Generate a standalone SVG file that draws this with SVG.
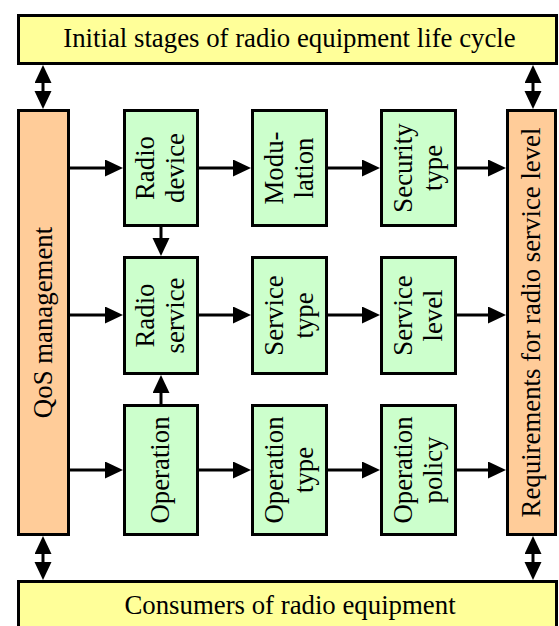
<svg xmlns="http://www.w3.org/2000/svg" width="559" height="626" viewBox="0 0 559 626">
<style>
.box{stroke:#000;stroke-width:3;}
.y{fill:#FFFF99;}
.o{fill:#FFCC99;}
.g{fill:#CCFFCC;}
text{font-family:"Liberation Serif","Times New Roman",serif;font-size:26.8px;fill:#000;text-anchor:middle;}
.c{stroke:#000;stroke-width:3;fill:none;}
</style>
<defs>
<marker id="ah" markerUnits="userSpaceOnUse" markerWidth="20" markerHeight="18" refX="1" refY="8.5" orient="auto-start-reverse" viewBox="0 0 20 18">
<path d="M0,0 L18,8.5 L0,17 Z" fill="#000"/>
</marker>
</defs>
<g id="top">
<rect class="box y" x="18.5" y="15.5" width="538" height="48"/>
<text x="289.5" y="47">Initial stages of radio equipment life cycle</text>
</g>
<g id="bottom">
<rect class="box y" x="18.5" y="581.5" width="538" height="60"/>
<text x="290" y="614">Consumers of radio equipment</text>
</g>
<g id="qos">
<rect class="box o" x="18.5" y="110.5" width="50" height="424"/>
<text transform="translate(43.5,322.5) rotate(-90)" x="0" y="8.5">QoS management</text>
</g>
<g id="req">
<rect class="box o" x="507.5" y="110.5" width="48" height="424"/>
<text transform="translate(531.5,322.5) rotate(-90)" x="0" y="8.5">Requirements for radio service level</text>
</g>
<g id="radio-device">
<rect class="box g" x="124.5" y="110.5" width="73" height="115"/>
<text transform="translate(161,168) rotate(-90)"><tspan x="0" y="-7">Radio</tspan><tspan x="0" y="23">device</tspan></text>
</g>
<g id="modulation">
<rect class="box g" x="252.5" y="110.5" width="74" height="115"/>
<text transform="translate(289.5,168) rotate(-90)"><tspan x="0" y="-7">Modu-</tspan><tspan x="0" y="23">lation</tspan></text>
</g>
<g id="security-type">
<rect class="box g" x="381.5" y="110.5" width="74" height="115"/>
<text transform="translate(418.5,168) rotate(-90)"><tspan x="0" y="-7">Security</tspan><tspan x="0" y="23">type</tspan></text>
</g>
<g id="radio-service">
<rect class="box g" x="124.5" y="257.5" width="73" height="116"/>
<text transform="translate(161,315.5) rotate(-90)"><tspan x="0" y="-7">Radio</tspan><tspan x="0" y="23">service</tspan></text>
</g>
<g id="service-type">
<rect class="box g" x="252.5" y="257.5" width="74" height="116"/>
<text transform="translate(289.5,315.5) rotate(-90)"><tspan x="0" y="-7">Service</tspan><tspan x="0" y="23">type</tspan></text>
</g>
<g id="service-level">
<rect class="box g" x="381.5" y="257.5" width="74" height="116"/>
<text transform="translate(418.5,315.5) rotate(-90)"><tspan x="0" y="-7">Service</tspan><tspan x="0" y="23">level</tspan></text>
</g>
<g id="operation">
<rect class="box g" x="124.5" y="405.5" width="73" height="129"/>
<text transform="translate(161,470) rotate(-90)" x="0" y="8">Operation</text>
</g>
<g id="operation-type">
<rect class="box g" x="252.5" y="405.5" width="74" height="129"/>
<text transform="translate(289.5,470) rotate(-90)"><tspan x="0" y="-7">Operation</tspan><tspan x="0" y="23">type</tspan></text>
</g>
<g id="operation-policy">
<rect class="box g" x="381.5" y="405.5" width="74" height="129"/>
<text transform="translate(418.5,470) rotate(-90)"><tspan x="0" y="-7">Operation</tspan><tspan x="0" y="23">policy</tspan></text>
</g>
<g id="connectors">
<path class="c" marker-end="url(#ah)" d="M70,168 H106"/>
<path class="c" marker-end="url(#ah)" d="M199,168 H234"/>
<path class="c" marker-end="url(#ah)" d="M328,168 H363"/>
<path class="c" marker-end="url(#ah)" d="M457,168 H489"/>
<path class="c" marker-end="url(#ah)" d="M70,315 H106"/>
<path class="c" marker-end="url(#ah)" d="M199,315 H234"/>
<path class="c" marker-end="url(#ah)" d="M328,315 H363"/>
<path class="c" marker-end="url(#ah)" d="M457,315 H489"/>
<path class="c" marker-end="url(#ah)" d="M70,470 H106"/>
<path class="c" marker-end="url(#ah)" d="M199,470 H234"/>
<path class="c" marker-end="url(#ah)" d="M328,470 H363"/>
<path class="c" marker-end="url(#ah)" d="M457,470 H489"/>
<path class="c" marker-end="url(#ah)" d="M161,227 V239"/>
<path class="c" marker-end="url(#ah)" d="M161,404 V392"/>
<path class="c" marker-start="url(#ah)" marker-end="url(#ah)" d="M43,82 V92"/>
<path class="c" marker-start="url(#ah)" marker-end="url(#ah)" d="M533,82 V92"/>
<path class="c" marker-start="url(#ah)" marker-end="url(#ah)" d="M43,553 V563"/>
<path class="c" marker-start="url(#ah)" marker-end="url(#ah)" d="M533,553 V563"/>
</g>
</svg>
